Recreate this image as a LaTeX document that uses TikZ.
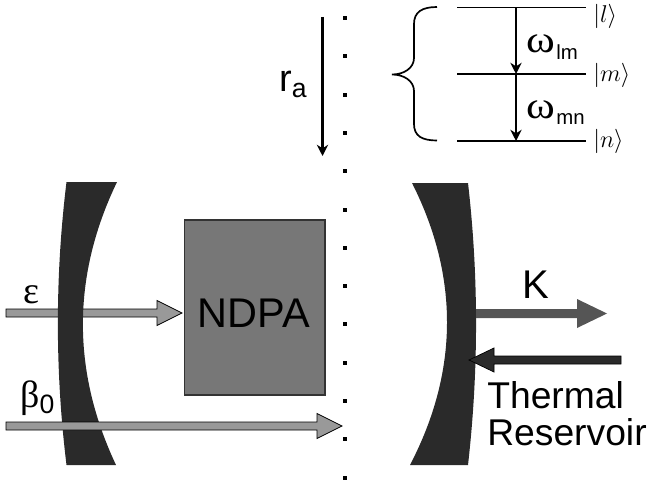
\documentclass[tikz,border=0pt]{standalone}
\usepackage{fontspec}
\setmainfont{Liberation Sans}
\newfontfamily\greekfont{Liberation Serif}
\usetikzlibrary{arrows.meta}
\definecolor{mirrorgray}{HTML}{2A2A2A}
\definecolor{blockgray}{HTML}{777777}
\definecolor{beamgray}{HTML}{999999}
\definecolor{lossgray}{HTML}{555555}
\def\blockarrow[#1](#2:#3:#4:#5)(#6:#7){\draw[#1] (#2,#5-#6) -- (#3,#5-#6) -- (#3,#5-#7) -- (#4,#5) -- (#3,#5+#7) -- (#3,#5+#6) -- (#2,#5+#6) -- cycle;}
\def\omegasub#1{{\fontsize{27}{30}\selectfont\greekfont\scalebox{1.15}[1]{ω}}\kern1pt\raisebox{-4.5pt}{#1}}
\tikzset{
	mirror/.style={fill=mirrorgray, draw=none},
	beam/.style={fill=beamgray, draw=black, line width=0.5pt},
	level/.style={line width=1.4pt},
	thinarrow/.style={line width=2.1pt, -{Stealth[length=8pt, width=8pt]}},
	biglabel/.style={inner sep=0pt, font=\fontsize{27}{30}\selectfont},
	ketlabel/.style={inner sep=0pt, anchor=west, font=\fontsize{16.5}{20}\selectfont},
	omegalabel/.style={inner sep=0pt, anchor=base west, font=\fontsize{14.5}{18}\selectfont}
}

\begin{document}
\begin{tikzpicture}[x=0.25mm, y=-0.25mm]
	\useasboundingbox (0, 0) rectangle (649, 487);
	
	% column of dots
	\foreach \k in {0,...,12}
		\fill (343, 16+38.3*\k) rectangle (347, 20+38.3*\k);
	
	% atoms going in
	\coordinate (ratop) at (322.5, 17);
	\coordinate (rabottom) at (322.5, 156);
	\draw[thinarrow] (ratop) -- (rabottom);
	\node[biglabel, anchor=base west] (ralabel) at (279, 92) {r\textsubscript{a}};
	
	% levels
	\coordinate (lleft) at (457, 7.5);
	\coordinate (lright) at (586, 7.5);
	\coordinate (mleft) at (457, 74);
	\coordinate (mright) at (586, 74);
	\coordinate (nleft) at (457, 141);
	\coordinate (nright) at (586, 141);
	\coordinate (lmid) at (516, 7.5);
	\coordinate (mmid) at (516, 74);
	\coordinate (nmid) at (516, 141);
	\draw[level] (lleft) -- (lright);
	\draw[level] (mleft) -- (mright);
	\draw[level] (nleft) -- (nright);
	\draw[thinarrow] (lmid) -- (mmid);
	\draw[thinarrow] (mmid) -- (nmid);
	\node[ketlabel] (ketl) at (593, 16) {$|l\rangle$};
	\node[ketlabel] (ketm) at (593, 75) {$|m\rangle$};
	\node[ketlabel] (ketn) at (593, 141) {$|n\rangle$};
	\node[omegalabel] (omegalm) at (526, 53) {\omegasub{lm}};
	\node[omegalabel] (omegamn) at (526, 118) {\omegasub{mn}};
	
	% brace
	\draw[line width=1.2pt] (437, 7) .. controls (422, 7) and (414, 12) .. (414, 24) -- (414, 58)
		.. controls (414, 68) and (404, 74.5) .. (392, 74.5)
		.. controls (404, 74.5) and (414, 81) .. (414, 91) -- (414, 124)
		.. controls (414, 136) and (422, 140.5) .. (437, 140.5);
	
	% input beam, behind the mirror
	\blockarrow[beam](6:157:182:313)(4:12.5)
	
	% mirrors
	\draw[mirror] (66.5, 182) .. controls (55, 276) and (55, 371) .. (66.5, 465)
		-- (116, 465) .. controls (71.7, 371) and (71.7, 276) .. (117, 182) -- cycle;
	\draw[mirror] (412, 183) .. controls (459, 276) and (459, 371) .. (410, 465)
		-- (468, 465) .. controls (478.7, 371) and (478.7, 276) .. (468, 183) -- cycle;
	
	% crystal
	\node[draw=black!80, fill=blockgray, line width=0.8pt, minimum width=100.2pt, minimum height=124.4pt, inner sep=0pt] (ndpa) at (254.5, 307.5) {};
	\node[inner sep=0pt, font=\fontsize{29.5}{32}\selectfont] (ndpalabel) at (254, 313) {NDPA};
	
	\blockarrow[beam](6:317:342:426)(4:12.5)
	\blockarrow[fill=lossgray, draw=none](476:577:607:313.5)(4.5:14.5)
	\blockarrow[fill=mirrorgray, draw=black, line width=0.5pt](621:494:469:360)(4:12)
	
	\node[inner sep=0pt, anchor=base, font=\fontsize{27}{30}\selectfont\greekfont] (eps) at (31, 303) {ε};
	\node[inner sep=0pt, anchor=base west, font=\fontsize{27}{30}\selectfont] (beta) at (20, 407) {{\greekfont β}\textsubscript{0}};
	\node[inner sep=0pt, anchor=base, font=\fontsize{28.5}{30}\selectfont] (kappa) at (536, 298) {K};
	\node[inner sep=0pt, anchor=base west, font=\fontsize{26.5}{30}\selectfont] (thermal) at (487, 408) {Thermal};
	\node[inner sep=0pt, anchor=base west, font=\fontsize{26.5}{30}\selectfont] (reservoir) at (487, 445) {Reservoir};
\end{tikzpicture}
\end{document}
